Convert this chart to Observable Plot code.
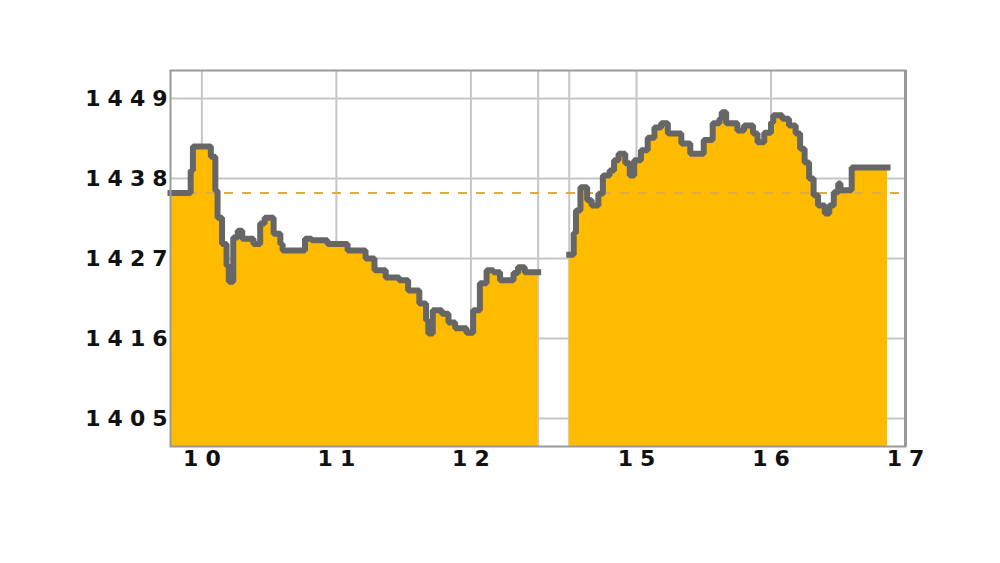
<!DOCTYPE html>
<html>
<head>
<meta charset="utf-8">
<script src="https://cdn.jsdelivr.net/npm/d3@7"></script>
<script src="https://cdn.jsdelivr.net/npm/@observablehq/plot@0.6"></script>
<style>
  html, body { margin: 0; padding: 0; background: #fff; }
  #chart svg text { letter-spacing: 7px; }
</style>
</head>
<body>
<div id="chart"></div>
<script>
// Morning session (time, index level)
const amTimes = ["9:46","9:55","9:56","10:04","10:06","10:07","10:09","10:11","10:12","10:14","10:16","10:18","10:23","10:26","10:28","10:32","10:35","10:36","10:46","10:49","10:56","11:05","11:13","11:17","11:22","11:28","11:32","11:37","11:40","11:41","11:43","11:47","11:50","11:53","11:58","12:01","12:04","12:07","12:10","12:13","12:19","12:21","12:24","12:30"];
const amValues = [1436.0,1439.1,1442.4,1441.0,1436.3,1432.6,1429.0,1426.0,1423.8,1429.9,1430.8,1429.7,1429.0,1431.8,1432.6,1430.4,1429.0,1428.1,1429.7,1429.5,1429.0,1428.1,1427.0,1425.4,1424.4,1424.0,1422.6,1420.8,1418.5,1416.7,1419.9,1419.4,1418.2,1417.4,1416.8,1419.9,1423.6,1425.4,1425.1,1424.0,1425.0,1425.8,1425.1,1425.1];
// Afternoon session
const pmTimes = ["14:30","14:32","14:33","14:35","14:38","14:40","14:43","14:45","14:48","14:50","14:52","14:55","14:57","14:59","15:02","15:05","15:08","15:11","15:14","15:20","15:24","15:30","15:34","15:37","15:38","15:40","15:45","15:48","15:52","15:54","15:57","16:00","16:01","16:05","16:08","16:11","16:13","16:15","16:17","16:19","16:21","16:24","16:26","16:28","16:30","16:31","16:36","16:52"];
const pmValues = [1427.5,1430.5,1433.6,1436.8,1435.0,1434.3,1435.9,1438.4,1439.1,1440.5,1441.4,1440.1,1438.4,1440.5,1441.9,1443.6,1445.0,1445.6,1444.2,1442.8,1441.4,1443.3,1445.6,1446.2,1447.1,1445.6,1444.6,1445.3,1444.2,1443.0,1444.3,1445.7,1446.7,1446.2,1445.3,1444.2,1442.1,1440.2,1438.0,1435.7,1434.3,1433.2,1434.3,1436.1,1437.3,1436.4,1439.5,1439.5];

const prevClose = [1436];
const yTicks = [1405, 1416, 1427, 1438, 1449];
const xTickHours = [10, 11, 12, 15, 16, 17];
const xTickLabels = ["10", "11", "12", "15", "16", "17"];
const gridHours = [10, 11, 12, 12.5, 14.5, 15, 16, 17];

// lunch break is compressed on the time axis
const BREAK_START = 12.5, BREAK_END = 14.5, BREAK_SHOWN = 0.231;
const pos = h => h <= BREAK_START ? h : h - (BREAK_END - BREAK_START - BREAK_SHOWN);
const toH = s => { const [a, b] = s.split(":").map(Number); return a + b / 60; };

const data = [
  ...amTimes.map((t, i) => ({s: "am", p: pos(toH(t)), v: amValues[i]})),
  ...pmTimes.map((t, i) => ({s: "pm", p: pos(toH(t)), v: pmValues[i]}))
];

const yDomain = [1401.15, 1452.85];
const xTickPos = xTickHours.map(pos);
const labelOf = new Map(xTickPos.map((p, i) => [p, xTickLabels[i]]));

const chart = Plot.plot({
  width: 1000,
  height: 563,
  marginLeft: 170,
  marginRight: 95,
  marginTop: 70,
  marginBottom: 117,
  style: {background: "#fff", fontFamily: "'DejaVu Sans', sans-serif"},
  x: {domain: [pos(toH("9:46")), pos(17)], axis: null},
  y: {domain: yDomain, axis: null},
  marks: [
    Plot.ruleY(yTicks, {stroke: "#c6c6c6", strokeWidth: 2}),
    Plot.ruleX(gridHours.map(pos), {stroke: "#c6c6c6", strokeWidth: 2}),
    Plot.areaY(data, {x: "p", y1: yDomain[0], y2: "v", z: "s", curve: "step-after", fill: "#FFBB00"}),
    Plot.ruleY(prevClose, {stroke: "#dfab45", strokeWidth: 2, strokeDasharray: "9,9"}),
    Plot.lineY(data, {x: "p", y: "v", z: "s", curve: "step-after", stroke: "#666666", strokeWidth: 6, strokeLinejoin: "miter", strokeLinecap: "square"}),
    Plot.frame({stroke: "#9a9a9a", strokeWidth: 2}),
    Plot.ruleX([pos(17)], {stroke: "#9a9a9a", strokeWidth: 3}),
    Plot.axisY(yTicks, {label: null, tickSize: 0, tickPadding: 0, dx: 4, fontSize: 22, fontWeight: "bold", fill: "#111", tickFormat: d => String(d)}),
    Plot.axisX(xTickPos, {label: null, tickSize: 0, tickPadding: 4, dx: 3.5, fontSize: 22, fontWeight: "bold", fill: "#111", tickFormat: d => labelOf.get(d)})
  ]
});
document.getElementById("chart").appendChild(chart);
</script>
</body>
</html>
